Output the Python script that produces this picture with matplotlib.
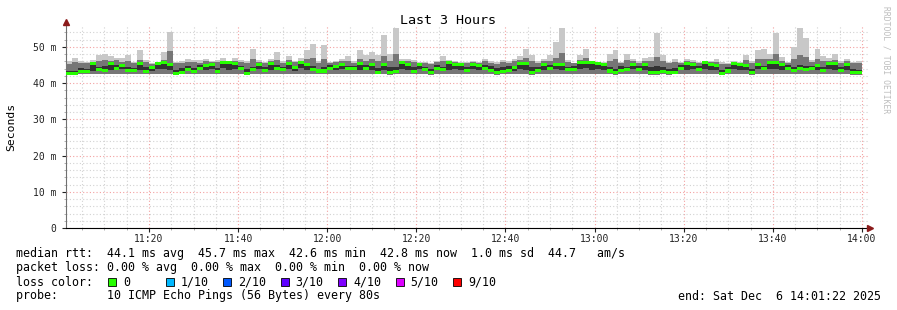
import numpy as np
import matplotlib
matplotlib.use('Agg')
import matplotlib.pyplot as plt
import matplotlib.dates as mdates
from matplotlib.patches import Rectangle
from datetime import datetime, timedelta

# smokeping "Last 3 Hours" graph, values in ms, one entry per 80 s step
start = datetime(2025, 12, 6, 11, 1, 22)
end = datetime(2025, 12, 6, 14, 1, 22)
step_s = 80

rtt_median = [
    42.7, 42.7, 43.2, 43.2, 45.3, 43.6, 43.5, 45.3, 44.1, 44.9,
    43.5, 43.5, 45.3, 43.2, 44.2, 45.5, 45.7, 45.0, 42.7, 43.0,
    43.6, 43.2, 44.1, 44.7, 45.1, 43.2, 45.7, 45.7, 45.5, 43.9,
    42.6, 43.6, 45.1, 43.5, 45.3, 44.1, 43.6, 45.3, 44.2, 45.7,
    45.1, 43.6, 43.3, 43.3, 43.9, 44.6, 45.1, 43.9, 43.9, 45.3,
    44.1, 45.1, 43.0, 45.0, 43.0, 43.2, 45.7, 45.1, 43.2, 45.1,
    43.6, 43.0, 44.1, 43.6, 45.7, 45.0, 45.1, 43.5, 45.0, 44.7,
    44.1, 43.5, 43.0, 43.2, 43.5, 44.2, 45.3, 45.3, 43.0, 43.5,
    45.0, 43.9, 45.1, 45.1, 43.6, 43.6, 45.7, 45.7, 45.7, 45.3,
    45.1, 43.3, 43.0, 43.5, 43.6, 45.0, 43.6, 45.1, 43.0, 43.0,
    43.2, 43.0, 43.0, 44.1, 45.3, 45.0, 43.6, 45.7, 45.0, 44.7,
    42.7, 43.3, 45.3, 45.1, 44.9, 43.0, 45.0, 43.9, 45.7, 45.7,
    45.0, 43.9, 43.5, 44.1, 43.6, 43.9, 44.9, 43.5, 45.5, 45.3,
    43.5, 45.1, 43.0, 42.8,
]
rtt_max = [
    46.2, 47.0, 46.0, 45.7, 46.4, 47.7, 47.9, 47.5, 47.0, 47.0,
    47.7, 45.8, 49.1, 46.3, 45.6, 45.8, 48.6, 54.2, 45.8, 46.0,
    46.5, 46.3, 46.3, 46.7, 46.0, 46.3, 47.0, 46.0, 47.0, 46.3,
    46.0, 49.5, 46.3, 45.8, 46.7, 48.6, 46.0, 47.4, 46.0, 47.0,
    49.1, 50.7, 46.0, 50.5, 45.8, 46.0, 46.7, 47.4, 46.0, 49.1,
    47.7, 48.6, 47.7, 53.3, 48.1, 55.1, 46.7, 46.5, 46.3, 45.8,
    45.8, 45.6, 46.0, 47.4, 46.3, 46.0, 45.8, 45.8, 46.0, 45.8,
    46.7, 46.0, 45.8, 46.4, 46.0, 46.7, 47.4, 49.3, 47.7, 46.0,
    46.7, 47.7, 51.4, 55.1, 46.3, 45.6, 47.8, 49.5, 46.0, 45.6,
    45.8, 47.9, 49.1, 45.8, 47.9, 46.7, 46.0, 46.9, 47.2, 53.9,
    47.7, 45.8, 46.5, 45.8, 46.7, 46.3, 45.8, 46.0, 46.0, 46.5,
    45.8, 45.6, 46.0, 45.8, 47.7, 46.0, 49.1, 49.5, 48.1, 53.9,
    47.2, 45.8, 50.0, 55.1, 52.3, 46.3, 49.3, 47.5, 47.0, 47.9,
    46.0, 46.5, 45.8, 46.0,
]
rtt_upper = [
    45.2, 45.8, 45.6, 45.4, 45.9, 46.2, 46.4, 46.0, 46.3, 45.8,
    46.0, 45.5, 46.3, 45.7, 45.3, 45.6, 46.4, 48.8, 45.4, 45.6,
    45.9, 45.7, 45.6, 46.0, 45.8, 45.7, 46.1, 45.9, 46.0, 45.8,
    45.4, 46.6, 45.9, 45.5, 46.0, 46.4, 45.6, 46.3, 45.7, 46.2,
    46.6, 46.8, 45.6, 46.5, 45.5, 45.7, 46.0, 46.2, 45.6, 46.6,
    46.2, 46.5, 46.0, 47.5, 46.2, 48.0, 46.2, 46.0, 45.7, 45.6,
    45.5, 45.3, 45.7, 46.2, 46.1, 45.8, 45.6, 45.4, 45.7, 45.6,
    46.0, 45.6, 45.3, 45.8, 45.6, 46.0, 46.3, 46.8, 46.0, 45.6,
    46.1, 46.2, 47.0, 48.2, 45.8, 45.4, 46.4, 46.8, 46.1, 45.6,
    45.6, 46.2, 46.5, 45.4, 46.3, 46.0, 45.6, 46.1, 46.0, 47.2,
    46.2, 45.4, 45.8, 45.5, 46.0, 45.8, 45.5, 46.1, 45.8, 45.9,
    45.3, 45.3, 45.8, 45.6, 46.3, 45.6, 46.6, 46.5, 46.6, 48.0,
    46.2, 45.5, 46.5, 47.8, 47.2, 45.8, 46.6, 46.0, 46.1, 46.3,
    45.6, 46.0, 45.5, 45.4,
]
rtt_inner = [
    43.2, 43.4, 44.0, 43.8, 43.4, 44.5, 44.6, 43.6, 45.0, 43.8,
    44.4, 44.2, 43.5, 44.3, 43.4, 43.9, 44.0, 43.5, 43.6, 44.2,
    44.6, 44.0, 45.0, 43.6, 43.8, 44.1, 44.2, 43.5, 44.0, 44.8,
    43.8, 44.5, 43.9, 44.4, 43.6, 45.0, 44.3, 43.8, 43.4, 44.1,
    43.7, 44.6, 44.0, 44.4, 44.9, 43.6, 43.9, 44.8, 44.6, 43.5,
    45.0, 43.7, 44.2, 43.6, 44.5, 44.3, 43.8, 43.5, 44.4, 43.8,
    44.5, 44.0, 45.0, 44.4, 43.7, 43.9, 43.6, 44.3, 43.8, 43.5,
    45.0, 44.6, 44.1, 44.4, 44.7, 43.4, 43.8, 43.6, 44.3, 44.5,
    43.7, 44.9, 43.9, 43.6, 44.4, 44.6, 43.9, 44.2, 43.6, 43.8,
    43.7, 44.4, 44.0, 44.6, 44.5, 43.8, 44.7, 43.6, 44.3, 44.6,
    44.4, 44.0, 44.2, 45.0, 43.7, 43.9, 44.6, 43.8, 43.5, 43.6,
    43.6, 44.3, 43.8, 43.7, 43.6, 44.0, 43.8, 44.8, 43.9, 44.0,
    43.6, 44.9, 44.4, 45.0, 44.6, 44.8, 43.7, 44.5, 43.9, 43.6,
    44.4, 43.7, 44.0, 43.6,
]
rtt_min = [
    42.3, 42.3, 42.5, 42.6, 42.4, 42.5, 42.4, 42.6, 42.5, 42.4,
    42.5, 42.6, 42.4, 42.5, 42.4, 42.6, 42.5, 42.4, 42.2, 42.4,
    42.5, 42.4, 42.6, 42.5, 42.4, 42.5, 42.6, 42.5, 42.4, 42.5,
    42.2, 42.4, 42.6, 42.5, 42.4, 42.5, 42.4, 42.6, 42.5, 42.5,
    42.4, 42.5, 42.4, 42.5, 42.6, 42.5, 42.4, 42.5, 42.6, 42.4,
    42.5, 42.6, 42.4, 42.5, 42.3, 42.4, 42.6, 42.5, 42.4, 42.6,
    42.5, 42.3, 42.5, 42.4, 42.6, 42.5, 42.5, 42.4, 42.6, 42.5,
    42.4, 42.5, 42.3, 42.4, 42.5, 42.6, 42.5, 42.4, 42.3, 42.5,
    42.6, 42.4, 42.5, 42.6, 42.4, 42.5, 42.6, 42.5, 42.6, 42.4,
    42.5, 42.4, 42.3, 42.5, 42.4, 42.6, 42.5, 42.5, 42.3, 42.3,
    42.4, 42.3, 42.4, 42.5, 42.6, 42.5, 42.4, 42.6, 42.5, 42.5,
    42.2, 42.4, 42.5, 42.6, 42.5, 42.3, 42.5, 42.4, 42.6, 42.5,
    42.5, 42.4, 42.5, 42.4, 42.5, 42.4, 42.5, 42.4, 42.6, 42.5,
    42.4, 42.5, 42.3, 42.2,
]

y_ticks = [0, 10, 20, 30, 40, 50]
y_tick_labels = ['0', '10 m', '20 m', '30 m', '40 m', '50 m']

stats_line = 'median rtt:  44.1 ms avg  45.7 ms max  42.6 ms min  42.8 ms now  1.0 ms sd  44.7   am/s'
loss_line = 'packet loss: 0.00 % avg  0.00 % max  0.00 % min  0.00 % now'
loss_labels = ['0', '1/10', '2/10', '3/10', '4/10', '5/10', '9/10']
loss_colors = ['#26ff00', '#00b8ff', '#0059ff', '#5e00ff', '#7e00ff', '#dd00ff', '#ff0000']
probe_line = 'probe:       10 ICMP Echo Pings (56 Bytes) every 80s'
end_line = 'end: Sat Dec  6 14:01:22 2025'

W, H = 897, 310
MONO = 'DejaVu Sans Mono'


def px(x, y):
    """pixel position -> figure coords"""
    return x / W, 1 - y / H


fig = plt.figure(figsize=(W / 100, H / 100), dpi=100)
fig.patch.set_facecolor('white')
ax = fig.add_axes([66 / W, 82 / H, 802 / W, 203 / H])
ax.set_facecolor('white')

n = len(rtt_median)
times = [start + timedelta(seconds=step_s * k) for k in range(n)]
width = step_s / 86400.0
med = np.array(rtt_median)
lo = np.array(rtt_min)
hi = np.array(rtt_max)
up = np.array(rtt_upper)
inner = np.array(rtt_inner)

# smoke layers
ax.bar(times, hi - lo, bottom=lo, width=width, align='edge', color='#c8c8c8', linewidth=0, zorder=2)
ax.bar(times, up - lo, bottom=lo, width=width, align='edge', color='#767676', linewidth=0, zorder=3)
band_lo = np.minimum(med, inner)
band_hi = np.maximum(med, inner)
ax.bar(times, band_hi - band_lo, bottom=band_lo, width=width, align='edge', color='#323232', linewidth=0, zorder=4)
# median, coloured by loss (all 0 here)
ax.bar(times, 0.85, bottom=med - 0.42, width=width, align='edge', color=loss_colors[0], linewidth=0, zorder=5)

ax.set_xlim(start, end)
ax.set_ylim(0, 56)

ax.xaxis.set_major_locator(mdates.MinuteLocator(byminute=[0, 20, 40]))
ax.xaxis.set_minor_locator(mdates.MinuteLocator(byminute=range(0, 60, 5)))
ax.xaxis.set_major_formatter(mdates.DateFormatter('%H:%M'))
ax.set_yticks(y_ticks)
ax.set_yticklabels(y_tick_labels)
ax.set_yticks(np.arange(0, 56, 2), minor=True)

ax.grid(which='minor', color='#d2d2d2', linestyle=(0, (1, 2)), linewidth=0.8, zorder=0)
ax.grid(which='major', color='#f3a0a0', linestyle=(0, (1, 2)), linewidth=0.8, zorder=1)
ax.set_axisbelow(True)

for s in ['top', 'right']:
    ax.spines[s].set_visible(False)
ax.spines['left'].set_color('#707070')
ax.spines['bottom'].set_color('black')
ax.tick_params(axis='both', which='major', length=3, width=0.8, labelsize=7,
               colors='#222222')
ax.tick_params(axis='both', which='minor', length=1.5, width=0.5, color='#909090')
ax.tick_params(axis='x', which='major', pad=1.5)
ax.tick_params(axis='y', which='major', pad=4)
for lab in ax.get_xticklabels() + ax.get_yticklabels():
    lab.set_family(MONO)

# axis arrows
ax.plot([0], [1.015], marker='^', color='#8b1a1a', markersize=4, transform=ax.transAxes, clip_on=False, zorder=10)
ax.plot([1.003], [0], marker='>', color='#8b1a1a', markersize=4, transform=ax.transAxes, clip_on=False, zorder=10)

fig.text(*px(448, 20), 'Last 3 Hours', family=MONO, fontsize=9.6, ha='center', va='center', color='black')
fig.text(*px(11, 127), 'Seconds', family=MONO, fontsize=8.2, rotation=90, ha='center', va='center', color='black')
fig.text(*px(886, 60), 'RRDTOOL / TOBI OETIKER', family=MONO, fontsize=5.8, rotation=270,
         ha='center', va='center', color='#bdbdbd')

fs = 8.4
fig.text(*px(16, 254), stats_line, family=MONO, fontsize=fs, va='center')
fig.text(*px(16, 268), loss_line, family=MONO, fontsize=fs, va='center')
fig.text(*px(16, 282), 'loss color:', family=MONO, fontsize=fs, va='center')
for i, (lab, col) in enumerate(zip(loss_labels, loss_colors)):
    x0 = 108 + i * 57.5
    fig.patches.append(Rectangle(px(x0, 286), 8 / W, 8 / H, transform=fig.transFigure,
                                 facecolor=col, edgecolor='black', linewidth=0.6))
    fig.text(*px(x0 + 15, 282), lab, family=MONO, fontsize=fs, va='center')
fig.text(*px(16, 296), probe_line, family=MONO, fontsize=fs, va='center')
fig.text(*px(881, 296), end_line, family=MONO, fontsize=fs, va='center', ha='right')

fig.savefig('out.png', dpi=100, facecolor='white')
